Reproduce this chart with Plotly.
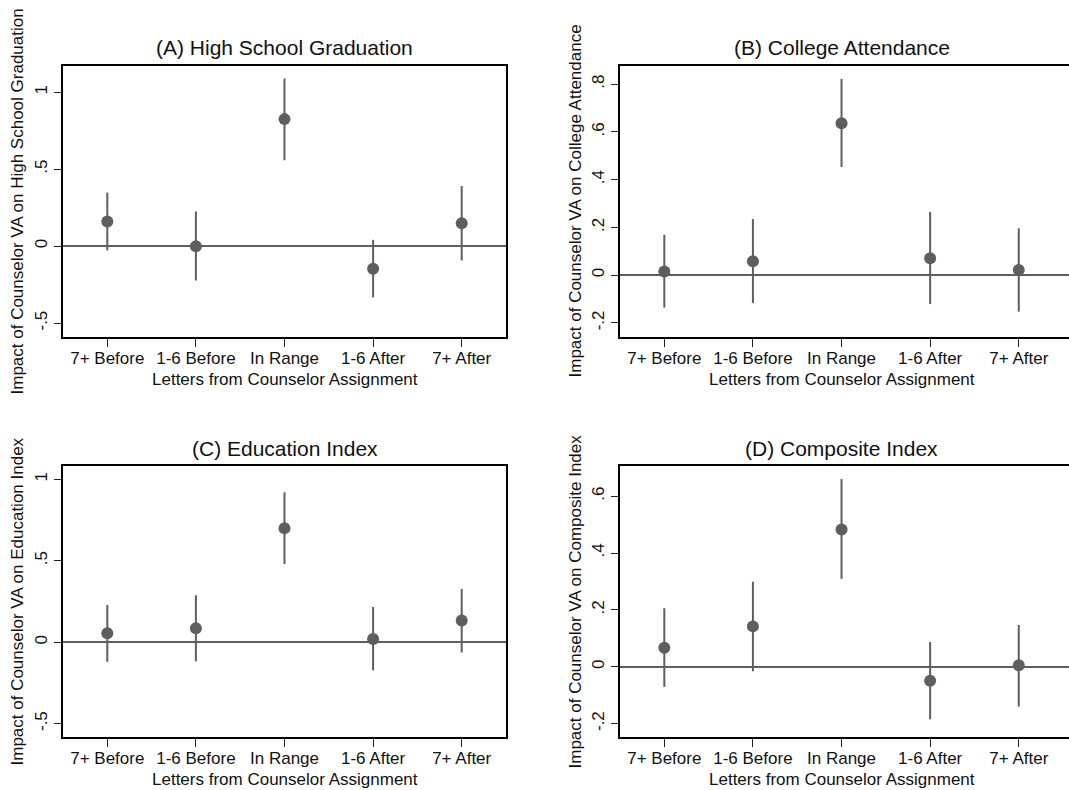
import plotly.graph_objects as go

categories = ["7+ Before", "1-6 Before", "In Range", "1-6 After", "7+ After"]
positions = [1, 2, 3, 4, 5]

titles = ["(A) High School Graduation", "(B) College Attendance",
          "(C) Education Index", "(D) Composite Index"]
ytitles = ["Impact of Counselor VA on High School Graduation",
           "Impact of Counselor VA on College Attendance",
           "Impact of Counselor VA on Education Index",
           "Impact of Counselor VA on Composite Index"]
xtitle = "Letters from Counselor Assignment"

# point estimates and 95% CI bounds
est_A = [0.160, 0.000, 0.825, -0.147, 0.149]
lo_A = [-0.028, -0.223, 0.558, -0.333, -0.093]
hi_A = [0.348, 0.225, 1.089, 0.041, 0.390]

est_B = [0.015, 0.058, 0.636, 0.071, 0.022]
lo_B = [-0.136, -0.117, 0.453, -0.121, -0.153]
hi_B = [0.169, 0.235, 0.822, 0.265, 0.196]

est_C = [0.055, 0.086, 0.700, 0.020, 0.133]
lo_C = [-0.120, -0.118, 0.480, -0.173, -0.063]
hi_C = [0.229, 0.288, 0.920, 0.216, 0.327]

est_D = [0.067, 0.142, 0.483, -0.049, 0.005]
lo_D = [-0.071, -0.016, 0.309, -0.185, -0.140]
hi_D = [0.206, 0.299, 0.660, 0.087, 0.147]

ytickvals_AC = [-0.5, 0, 0.5, 1]
yticktext_AC = ["-.5", "0", ".5", "1"]
ytickvals_B = [-0.2, 0, 0.2, 0.4, 0.6, 0.8]
yticktext_B = ["-.2", "0", ".2", ".4", ".6", ".8"]
ytickvals_D = [-0.2, 0, 0.2, 0.4, 0.6]
yticktext_D = ["-.2", "0", ".2", ".4", ".6"]

W, H = 1069, 790
FONT = "Liberation Sans, Arial, Helvetica, sans-serif"
GRAY = "#5e5e5e"

panels = [
    dict(est=est_A, lo=lo_A, hi=hi_A, xdom=(63, 506), ydom=(66, 337),
         xr=[0.5, 5.5], yr=[-0.59, 1.17], tv=ytickvals_AC, tt=yticktext_AC, mirror_y=True,
         ytx=17),
    dict(est=est_B, lo=lo_B, hi=hi_B, xdom=(620, 1069), ydom=(66, 337),
         xr=[0.5, 5.567], yr=[-0.259, 0.876], tv=ytickvals_B, tt=yticktext_B, mirror_y=False,
         ytx=575),
    dict(est=est_C, lo=lo_C, hi=hi_C, xdom=(63, 506), ydom=(466, 737),
         xr=[0.5, 5.5], yr=[-0.582, 1.082], tv=ytickvals_AC, tt=yticktext_AC, mirror_y=True,
         ytx=17),
    dict(est=est_D, lo=lo_D, hi=hi_D, xdom=(620, 1069), ydom=(466, 737),
         xr=[0.5, 5.567], yr=[-0.247, 0.706], tv=ytickvals_D, tt=yticktext_D, mirror_y=False,
         ytx=575),
]

fig = go.Figure()
layout = dict(width=W, height=H, margin=dict(l=0, r=0, t=0, b=0),
              paper_bgcolor="white", plot_bgcolor="white", showlegend=False,
              font=dict(family=FONT, size=17, color="#111111"))
annotations = []

for i, p in enumerate(panels):
    n = "" if i == 0 else str(i + 1)
    xa, ya = "x" + n, "y" + n
    plus = [h - e for h, e in zip(p["hi"], p["est"])]
    minus = [e - l for e, l in zip(p["est"], p["lo"])]
    fig.add_trace(go.Scatter(
        x=positions, y=p["est"], mode="markers", xaxis=xa, yaxis=ya,
        marker=dict(size=12, color=GRAY),
        error_y=dict(type="data", symmetric=False, array=plus, arrayminus=minus,
                     thickness=2, width=0, color=GRAY),
    ))
    x0, x1 = p["xdom"]
    y0, y1 = p["ydom"]
    layout["xaxis" + n] = dict(
        domain=[x0 / W, x1 / W], range=p["xr"], anchor=ya,
        tickvals=positions, ticktext=categories, ticks="outside", ticklen=8,
        tickwidth=1.3, tickcolor="#222222", showgrid=False, zeroline=False,
        showline=True, linecolor="black", linewidth=1.5, mirror=True,
        ticklabelstandoff=-3,
        tickfont=dict(size=17, family=FONT, color="#111111"),
    )
    layout["yaxis" + n] = dict(
        domain=[1 - y1 / H, 1 - y0 / H], range=p["yr"], anchor=xa,
        tickvals=p["tv"], ticktext=p["tt"], ticks="outside", ticklen=7,
        tickwidth=1.3, tickcolor="#222222", tickangle=-90, showgrid=False,
        zeroline=True, zerolinecolor=GRAY, zerolinewidth=2,
        showline=True, linecolor="black", linewidth=1.5, mirror=p["mirror_y"],
        tickfont=dict(size=17, family=FONT, color="#111111"),
    )
    # panel title
    annotations.append(dict(text=titles[i], xref=xa, yref="paper", x=3,
                            y=1 - (y0 - 18) / H, xanchor="center", yanchor="middle",
                            showarrow=False, font=dict(size=21, family=FONT, color="#111111")))
    # x-axis title
    annotations.append(dict(text=xtitle, xref=xa, yref="paper", x=3,
                            y=1 - (y1 + 42) / H, xanchor="center", yanchor="middle",
                            showarrow=False, font=dict(size=17, family=FONT, color="#111111")))
    # y-axis title
    annotations.append(dict(text=ytitles[i], xref="paper", yref="paper", x=p["ytx"] / W,
                            y=1 - ((y0 + y1) / 2) / H, xanchor="center", yanchor="middle",
                            textangle=-90, showarrow=False,
                            font=dict(size=17, family=FONT, color="#111111")))

layout["annotations"] = annotations
fig.update_layout(**layout)
fig.write_html("out.html")
